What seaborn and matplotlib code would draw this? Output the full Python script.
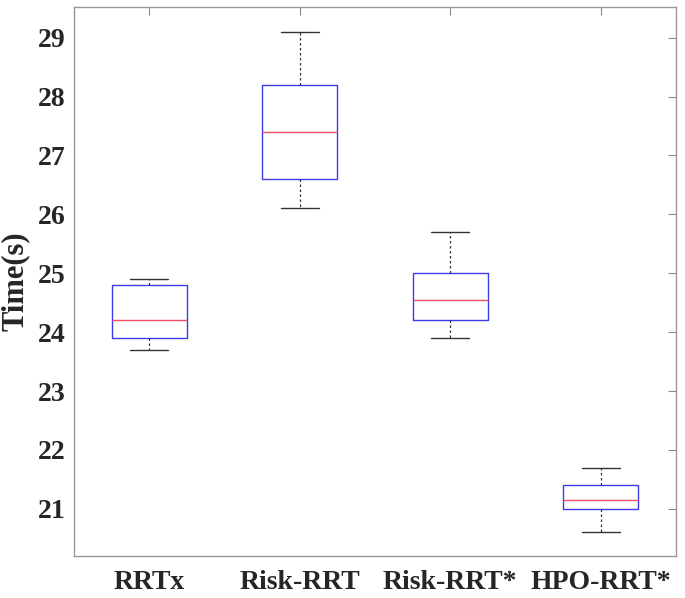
import numpy as np
import pandas as pd
import matplotlib
matplotlib.use("Agg")
import matplotlib.pyplot as plt
import seaborn as sns

categories = ["RRTx", "Risk-RRT", "Risk-RRT*", "HPO-RRT*"]
# five-number summaries: lower whisker, Q1, median, Q3, upper whisker
rrtx = [23.7, 23.9, 24.2, 24.8, 24.9]
risk_rrt = [26.1, 26.6, 27.4, 28.2, 29.1]
risk_rrt_star = [23.9, 24.2, 24.55, 25.0, 25.7]
hpo_rrt_star = [20.6, 21.0, 21.15, 21.4, 21.7]
yticks = [21, 22, 23, 24, 25, 26, 27, 28, 29]

series = [rrtx, risk_rrt, risk_rrt_star, hpo_rrt_star]
df = pd.DataFrame({
    "method": np.repeat(categories, 5),
    "time": np.concatenate(series),
})

sns.set_style("white")
plt.rcParams["font.family"] = ["Liberation Serif", "DejaVu Serif"]
plt.rcParams["font.weight"] = "bold"

fig = plt.figure(figsize=(6.85, 5.98), dpi=100)
ax = fig.add_axes([74 / 685, 1 - 556 / 598, 602 / 685, 549 / 598])

sns.boxplot(
    data=df, x="method", y="time", order=categories, ax=ax,
    whis=np.inf, width=0.5, fill=False, showfliers=False,
    boxprops=dict(color="#3b3be8", linewidth=1.0),
    medianprops=dict(color="#f05060", linewidth=1.0),
    whiskerprops=dict(color="#333333", linestyle=(0, (2, 2)), linewidth=0.9),
    capprops=dict(color="#333333", linewidth=1.0),
    capwidths=0.25,
)

ax.set_xlim(-0.5, 3.5)
ax.set_ylim(20.2, 29.52)
ax.set_yticks(yticks)
ax.set_yticklabels([str(t) for t in yticks])
ax.set_xlabel("")
ax.set_ylabel("Time(s)", fontsize=22, fontweight="bold", labelpad=6)
ax.tick_params(axis="both", direction="in", length=6, width=0.8, color="#888888",
               top=True, right=True, labelsize=20)
ax.tick_params(axis="x", pad=10)
ax.tick_params(axis="y", pad=6)
for lab in ax.get_xticklabels() + ax.get_yticklabels():
    lab.set_fontweight("bold")
for sp in ax.spines.values():
    sp.set_color("#999999")
    sp.set_linewidth(1.0)
    sp.set_visible(True)

fig.savefig("out.png", dpi=100)
